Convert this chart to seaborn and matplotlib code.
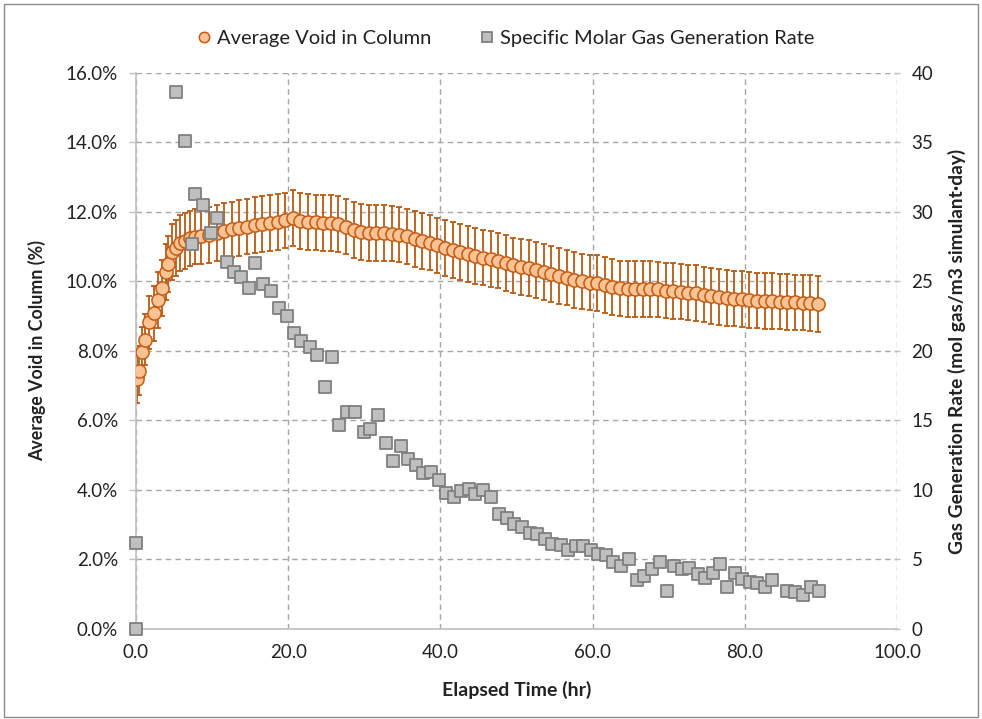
import matplotlib
matplotlib.use("Agg")
import matplotlib.pyplot as plt
import seaborn as sns
import pandas as pd
from matplotlib.lines import Line2D
from matplotlib.patches import Rectangle

# ---------------- data ----------------
void_time = [0.17, 0.4, 0.8, 1.2, 1.75, 2.3, 2.85, 3.4, 3.9, 4.25, 4.7, 5.25, 5.8, 6.4, 7.1, 7.75, 8.6,
             9.6, 10.6, 11.6, 12.6, 13.6, 14.6, 15.6, 16.6, 17.6, 18.6, 19.6, 20.6, 21.6, 22.6, 23.6, 24.6,
             25.6, 26.6, 27.6, 28.6, 29.6, 30.6, 31.6, 32.6, 33.6, 34.6, 35.6, 36.6, 37.6, 38.6, 39.6, 40.6,
             41.6, 42.6, 43.6, 44.6, 45.6, 46.6, 47.6, 48.6, 49.6, 50.6, 51.6, 52.6, 53.6, 54.6, 55.6, 56.6,
             57.6, 58.6, 59.6, 60.6, 61.6, 62.6, 63.6, 64.6, 65.6, 66.6, 67.6, 68.6, 69.6, 70.6, 71.6, 72.6,
             73.6, 74.6, 75.6, 76.6, 77.6, 78.6, 79.6, 80.6, 81.6, 82.6, 83.6, 84.6, 85.6, 86.6, 87.6, 88.6, 89.6]
void_pct = [7.20, 7.43, 7.97, 8.33, 8.83, 9.08, 9.46, 9.82, 10.27, 10.51, 10.84, 10.97, 11.10, 11.16, 11.24, 11.29, 11.30,
            11.33, 11.40, 11.46, 11.50, 11.54, 11.58, 11.62, 11.65, 11.68, 11.71, 11.76, 11.82, 11.74, 11.71, 11.70, 11.69,
            11.69, 11.66, 11.58, 11.48, 11.42, 11.39, 11.39, 11.39, 11.38, 11.35, 11.30, 11.23, 11.17, 11.12, 11.04, 10.97,
            10.90, 10.84, 10.79, 10.74, 10.69, 10.64, 10.60, 10.53, 10.46, 10.41, 10.38, 10.33, 10.27, 10.21, 10.15, 10.11,
            10.05, 10.00, 9.97, 9.95, 9.90, 9.84, 9.80, 9.79, 9.78, 9.78, 9.78, 9.77, 9.74, 9.72, 9.71, 9.68,
            9.66, 9.62, 9.58, 9.55, 9.53, 9.51, 9.49, 9.47, 9.45, 9.44, 9.43, 9.42, 9.41, 9.40, 9.39, 9.38, 9.36]
void_err = [0.70, 0.70, 0.72, 0.74, 0.76, 0.78, 0.80, 0.80, 0.80, 0.80, 0.80, 0.80, 0.80, 0.80, 0.80, 0.80, 0.80] + \
           [0.80] * 81  # error bar half-width read as ~0.8 %-points

rate_time = [0.0, 0.0, 5.3, 6.4, 7.3, 7.75, 8.85, 9.8, 10.7, 11.9, 12.9, 13.8, 14.8, 15.7, 16.7, 17.8, 18.8,
             19.9, 20.7, 21.7, 22.8, 23.8, 24.8, 25.8, 26.7, 27.7, 28.8, 29.9, 30.8, 31.8, 32.8, 33.8, 34.8,
             35.8, 36.8, 37.7, 38.8, 39.8, 40.7, 41.8, 42.7, 43.8, 44.6, 45.6, 46.7, 47.7, 48.7, 49.7, 50.7,
             51.8, 52.7, 53.7, 54.7, 55.8, 56.8, 57.8, 58.8, 59.8, 60.7, 61.8, 62.7, 63.8, 64.8, 65.8, 66.8,
             67.8, 68.9, 69.8, 70.7, 71.7, 72.7, 73.8, 74.8, 75.8, 76.7, 77.7, 78.7, 79.7, 80.7, 81.6, 82.6,
             83.6, 85.5, 86.6, 87.6, 88.7, 89.7]
rate_val = [0.0, 6.2, 38.6, 35.1, 27.7, 31.3, 30.5, 28.5, 29.6, 26.4, 25.7, 25.3, 24.5, 26.3, 24.8, 24.3, 23.1,
            22.5, 21.3, 20.7, 20.3, 19.7, 17.4, 19.6, 14.7, 15.6, 15.6, 14.2, 14.4, 15.4, 13.4, 12.1, 13.2,
            12.2, 11.8, 11.2, 11.3, 10.7, 9.8, 9.5, 9.9, 10.1, 9.7, 10.0, 9.5, 8.3, 7.95, 7.55, 7.35,
            6.9, 6.8, 6.45, 6.1, 6.05, 5.7, 5.97, 5.97, 5.7, 5.4, 5.3, 4.85, 4.55, 5.0, 3.5, 3.8,
            4.35, 4.85, 2.75, 4.55, 4.35, 4.4, 3.95, 3.7, 4.0, 4.7, 3.0, 4.0, 3.6, 3.35, 3.3, 3.05,
            3.5, 2.7, 2.65, 2.45, 3.0, 2.7]

x_ticks = [0, 20, 40, 60, 80, 100]
y_ticks = [0, 2, 4, 6, 8, 10, 12, 14, 16]
y2_ticks = [0, 5, 10, 15, 20, 25, 30, 35, 40]

void_df = pd.DataFrame({"t": void_time, "v": void_pct, "e": void_err})
rate_df = pd.DataFrame({"t": rate_time, "r": rate_val})

# ---------------- style ----------------
sns.set_theme(style="white")
plt.rcParams["font.family"] = ["Lato", "DejaVu Sans"]

ORANGE_FACE = "#FBC394"
ORANGE_EDGE = "#C55A11"
ERR = "#B85A14"
GREY_FACE = "#BFBFBF"
GREY_EDGE = "#7F7F7F"
GRID = "#A6A6A6"
TXT = "#222222"

fig = plt.figure(figsize=(9.82, 7.19), dpi=100)
ax = fig.add_axes([0.1385, 0.1252, 0.7749, 0.7733])
ax2 = ax.twinx()

# error bars + circles on primary
ax.errorbar(void_df["t"], void_df["v"], yerr=void_df["e"], fmt="none",
            ecolor=ERR, elinewidth=1.3, capsize=2.4, capthick=1.3, zorder=2)
sns.scatterplot(data=void_df, x="t", y="v", ax=ax, marker="o", s=90,
                color=ORANGE_FACE, edgecolor=ORANGE_EDGE, linewidth=1.1, zorder=3, legend=False)

# squares on secondary (drawn on top)
sns.scatterplot(data=rate_df, x="t", y="r", ax=ax2, marker="s", s=85,
                color=GREY_FACE, edgecolor=GREY_EDGE, linewidth=1.3, zorder=4, legend=False,
                clip_on=False)

ax.set_zorder(1)
ax2.set_zorder(2)
ax2.patch.set_visible(False)

ax.set_xlim(0, 100)
ax.set_ylim(0, 16)
ax2.set_ylim(0, 40)
ax.set_xticks(x_ticks)
ax.set_xticklabels([f"{v:.1f}" for v in x_ticks])
ax.set_yticks(y_ticks)
ax.set_yticklabels([f"{v:.1f}%" for v in y_ticks])
ax2.set_yticks(y2_ticks)
ax2.set_yticklabels([str(v) for v in y2_ticks])

ax.grid(True, which="major", color=GRID, linestyle=(0, (4, 3)), linewidth=1.0)
ax.set_axisbelow(True)

for a in (ax, ax2):
    for s in a.spines.values():
        s.set_visible(False)
ax.spines["left"].set_visible(True)
ax.spines["left"].set_color("#BFBFBF")
ax.spines["bottom"].set_visible(True)
ax.spines["bottom"].set_color("#BFBFBF")
for s in ("left", "bottom"):
    ax.spines[s].set_linewidth(1.2)

ax.tick_params(axis="both", which="major", length=5, width=1, color="#BFBFBF",
               labelsize=13.5, labelcolor=TXT, direction="out")
ax.tick_params(axis="x", pad=6)
ax.tick_params(axis="y", pad=8)
ax2.tick_params(axis="y", length=5, width=1, color="#BFBFBF", labelsize=13.5,
                labelcolor=TXT, direction="inout", pad=8)

ax.set_xlabel("Elapsed Time (hr)", fontsize=14, fontweight="bold", color=TXT, labelpad=14)
ax.set_ylabel("Average Void in Column (%)", fontsize=12.8, fontweight="bold", color=TXT, labelpad=14)
ax2.set_ylabel("Gas Generation Rate (mol gas/m3 simulant·day)", fontsize=13.8, fontweight="bold",
               color=TXT, labelpad=10)

handles = [
    Line2D([], [], marker="o", linestyle="none", markersize=7.5, markerfacecolor=ORANGE_FACE,
           markeredgecolor=ORANGE_EDGE, markeredgewidth=1.1),
    Line2D([], [], marker="s", linestyle="none", markersize=7.5, markerfacecolor=GREY_FACE,
           markeredgecolor=GREY_EDGE, markeredgewidth=1.3),
]
fig.legend(handles, ["Average Void in Column", "Specific Molar Gas Generation Rate"],
           loc="center", bbox_to_anchor=(0.511, 0.947), ncol=2, frameon=False,
           fontsize=14.5, handletextpad=-0.1, handlelength=1.5, columnspacing=2.0, labelcolor=TXT)

fig.patches.append(Rectangle((0.004, 0.003), 0.992, 0.992, transform=fig.transFigure,
                             fill=False, edgecolor="#8C8C8C", linewidth=1.0))

fig.savefig("out.png", dpi=100)
